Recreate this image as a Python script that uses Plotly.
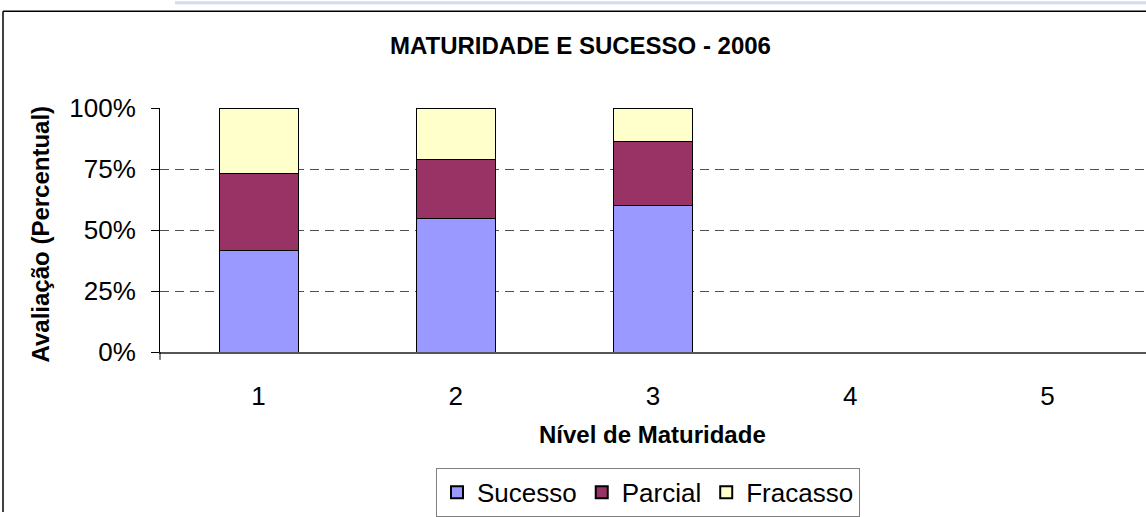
import plotly.graph_objects as go

categories = ["1", "2", "3", "4", "5"]
sucesso = [41.7, 54.8, 60.0, 0, 0]
parcial = [31.5, 24.0, 26.1, 0, 0]
fracasso = [26.8, 21.2, 13.9, 0, 0]
y_ticks = [0, 25, 50, 75, 100]
y_tick_labels = ["0%", "25%", "50%", "75%", "100%"]

W, H = 1146, 517
L, R, T, B = 160, 0, 108, 162
pw = W - L - R
ph = H - T - B

def px_x(x):
    return (x - L) / pw

def px_y(y):
    return (H - B - y) / ph

FONT = "Liberation Sans, Arial, sans-serif"

fig = go.Figure()
for name, vals, col in [("Sucesso", sucesso, "#9999FF"),
                        ("Parcial", parcial, "#993366"),
                        ("Fracasso", fracasso, "#FFFFCC")]:
    fig.add_trace(go.Bar(x=categories, y=vals, name=name, width=0.4,
                         marker=dict(color=col, line=dict(color="#000000", width=1))))

fig.update_layout(
    width=W, height=H,
    margin=dict(l=L, r=R, t=T, b=B),
    barmode="stack",
    paper_bgcolor="white", plot_bgcolor="white",
    font=dict(family=FONT, size=26, color="#000000"),
    legend=dict(orientation="h", x=px_x(648), y=px_y(497), xanchor="center", yanchor="middle",
                bordercolor="#808080", borderwidth=1, font=dict(size=26),
                itemsizing="constant", traceorder="normal", itemwidth=30,
                tracegroupgap=0),
    xaxis=dict(range=[-0.5, 4.5], showline=True, linecolor="#555555", linewidth=2,
               ticks="", showgrid=False, tickfont=dict(size=26), ticklabelstandoff=20),
    yaxis=dict(range=[0, 100], tickvals=y_ticks, ticktext=y_tick_labels,
               showline=True, linecolor="#000000", linewidth=1,
               ticks="outside", ticklen=8, tickcolor="#000000",
               showgrid=True, gridcolor="#505050", griddash="9px,6px", gridwidth=1,
               tickfont=dict(size=26), ticklabelstandoff=10, zeroline=False),
    showlegend=True,
    annotations=[
        dict(text="<b>MATURIDADE E SUCESSO - 2006</b>", xref="paper", yref="paper",
             x=px_x(580), y=px_y(45), showarrow=False, font=dict(size=24),
             xanchor="center", yanchor="middle"),
        dict(text="<b>Nível de Maturidade</b>", xref="paper", yref="paper",
             x=px_x(652), y=px_y(439), showarrow=False, font=dict(size=24),
             xanchor="center", yanchor="middle"),
        dict(text="<b>Avaliação (Percentual)</b>", xref="paper", yref="paper",
             x=px_x(40), y=px_y(236), showarrow=False, font=dict(size=24),
             textangle=-90, xanchor="center", yanchor="middle"),
    ],
    shapes=[
        dict(type="line", xref="paper", yref="paper", x0=px_x(3), x1=px_x(1146),
             y0=px_y(10), y1=px_y(10), line=dict(color="#000000", width=1.5)),
        dict(type="line", xref="paper", yref="paper", x0=px_x(3), x1=px_x(3),
             y0=px_y(10), y1=px_y(517), line=dict(color="#000000", width=1.5)),
        dict(type="rect", xref="paper", yref="paper", x0=px_x(175), x1=px_x(1146),
             y0=px_y(0), y1=px_y(3), line=dict(width=0), fillcolor="#d4daf2"),
        dict(type="line", xref="paper", yref="paper", x0=0, x1=0,
             y0=0, y1=px_y(363), line=dict(color="#000000", width=1)),
    ],
)

fig.write_html("out.html", config={"displayModeBar": False},
               post_script="document.body.style.margin='0';document.body.style.overflow='hidden';")
